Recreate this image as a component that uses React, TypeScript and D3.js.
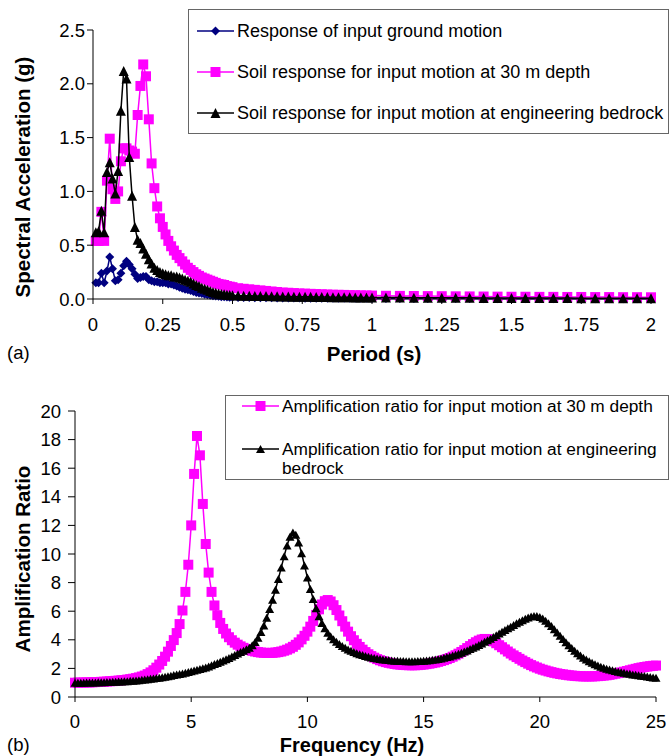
import React from 'react';
import * as d3 from 'd3';

// ---- (a) response spectra ----
const PERIODS = [
  0.01, 0.02, 0.03, 0.04, 0.05, 0.06, 0.07, 0.08, 0.09, 0.10,
  0.11, 0.12, 0.13, 0.14, 0.15, 0.16, 0.17, 0.18, 0.19, 0.20,
  0.21, 0.22, 0.23, 0.24, 0.25, 0.26, 0.27, 0.28, 0.29, 0.30,
  0.31, 0.32, 0.33, 0.34, 0.35, 0.36, 0.37, 0.38, 0.39, 0.40,
  0.41, 0.42, 0.43, 0.44, 0.45, 0.46, 0.47, 0.48, 0.49, 0.50,
  0.52, 0.54, 0.56, 0.58, 0.60, 0.62, 0.64, 0.66, 0.68, 0.70,
  0.72, 0.74, 0.76, 0.78, 0.80, 0.82, 0.84, 0.86, 0.88, 0.90,
  0.92, 0.94, 0.96, 0.98, 1.00,
  1.05, 1.10, 1.15, 1.20, 1.25, 1.30, 1.35, 1.40, 1.45, 1.50,
  1.55, 1.60, 1.65, 1.70, 1.75, 1.80, 1.85, 1.90, 1.95, 2.00,
];

const SA_INPUT = [
  0.15, 0.15, 0.24, 0.15, 0.26, 0.39, 0.28, 0.17, 0.18, 0.24,
  0.31, 0.35, 0.32, 0.28, 0.23, 0.19, 0.20, 0.21, 0.21, 0.18,
  0.17, 0.16, 0.16, 0.15, 0.15, 0.15, 0.14, 0.14, 0.13, 0.12,
  0.11, 0.10, 0.09, 0.085, 0.08, 0.07, 0.06, 0.055, 0.05, 0.045,
  0.04, 0.035, 0.03, 0.028, 0.025, 0.022, 0.02, 0.018, 0.017, 0.016,
  0.015, 0.014, 0.013, 0.012, 0.012, 0.011, 0.011, 0.010, 0.010, 0.009,
  0.009, 0.009, 0.008, 0.008, 0.008, 0.007, 0.007, 0.007, 0.007, 0.006,
  0.006, 0.006, 0.006, 0.006, 0.005,
  0.005, 0.005, 0.004, 0.004, 0.004, 0.004, 0.004, 0.003, 0.003, 0.003,
  0.003, 0.003, 0.003, 0.003, 0.002, 0.002, 0.002, 0.002, 0.002, 0.002,
];

const SA_30M = [
  0.54, 0.54, 0.81, 0.54, 1.10, 1.49, 1.02, 0.93, 1.00, 1.28,
  1.40, 1.40, 1.38, 1.37, 1.35, 1.71, 1.98, 2.18, 2.07, 1.67,
  1.26, 1.03, 0.86, 0.75, 0.67, 0.60, 0.54, 0.49, 0.45, 0.41,
  0.38, 0.35, 0.32, 0.29, 0.27, 0.25, 0.23, 0.215, 0.20, 0.19,
  0.18, 0.17, 0.16, 0.15, 0.14, 0.135, 0.13, 0.12, 0.115, 0.11,
  0.10, 0.095, 0.09, 0.085, 0.08, 0.075, 0.07, 0.065, 0.06, 0.058,
  0.055, 0.052, 0.05, 0.048, 0.046, 0.044, 0.042, 0.04, 0.039, 0.038,
  0.036, 0.035, 0.034, 0.033, 0.032,
  0.03, 0.029, 0.028, 0.027, 0.026, 0.025, 0.024, 0.023, 0.022, 0.021,
  0.021, 0.02, 0.02, 0.019, 0.019, 0.018, 0.018, 0.017, 0.017, 0.016,
];

const SA_BEDROCK = [
  0.62, 0.63, 0.82, 0.62, 1.18, 1.27, 1.12, 0.98, 1.19, 1.75,
  2.12, 2.05, 1.32, 0.96, 0.67, 0.55, 0.52, 0.47, 0.42, 0.37,
  0.33, 0.29, 0.27, 0.25, 0.24, 0.23, 0.22, 0.22, 0.21, 0.21,
  0.20, 0.19, 0.18, 0.17, 0.16, 0.145, 0.13, 0.12, 0.105, 0.095,
  0.085, 0.075, 0.065, 0.058, 0.052, 0.047, 0.043, 0.04, 0.037, 0.035,
  0.033, 0.031, 0.03, 0.029, 0.028, 0.027, 0.026, 0.025, 0.024, 0.023,
  0.022, 0.021, 0.02, 0.02, 0.019, 0.018, 0.018, 0.017, 0.017, 0.016,
  0.016, 0.015, 0.015, 0.014, 0.014,
  0.013, 0.013, 0.012, 0.012, 0.011, 0.011, 0.011, 0.01, 0.01, 0.01,
  0.009, 0.009, 0.009, 0.009, 0.008, 0.008, 0.008, 0.008, 0.007, 0.007,
];

const SA_TICKS = [0, 0.5, 1, 1.5, 2, 2.5];
const PERIOD_TICKS = [0, 0.25, 0.5, 0.75, 1, 1.25, 1.5, 1.75, 2];

// ---- (b) amplification ratios, sampled every 0.125 Hz from 0 to 25 Hz ----
const FREQ_STEP = 0.125;

const AMP_30M = [
  1.00, 1.00, 1.01, 1.01, 1.02, 1.02, 1.03, 1.04,
  1.05, 1.06, 1.07, 1.08, 1.10, 1.11, 1.13, 1.15,
  1.17, 1.19, 1.22, 1.25, 1.28, 1.32, 1.37, 1.43,
  1.50, 1.60, 1.72, 1.87, 2.05, 2.27, 2.52, 2.82,
  3.17, 3.57, 3.98, 4.47, 5.10, 6.05, 7.35, 9.25,
  12.00, 15.60, 18.25, 16.90, 13.50, 10.70, 8.70, 7.35,
  6.40, 5.72, 5.18, 4.76, 4.44, 4.18, 3.97, 3.80,
  3.66, 3.54, 3.44, 3.36, 3.29, 3.23, 3.18, 3.14,
  3.11, 3.09, 3.08, 3.08, 3.09, 3.11, 3.14, 3.18,
  3.24, 3.31, 3.40, 3.51, 3.65, 3.82, 4.03, 4.28,
  4.57, 4.92, 5.32, 5.74, 6.13, 6.47, 6.70, 6.78,
  6.68, 6.42, 6.08, 5.70, 5.30, 4.92, 4.57, 4.25,
  3.97, 3.72, 3.50, 3.31, 3.14, 2.99, 2.86, 2.75,
  2.65, 2.57, 2.50, 2.44, 2.39, 2.35, 2.31, 2.28,
  2.26, 2.24, 2.23, 2.22, 2.22, 2.22, 2.23, 2.25,
  2.27, 2.30, 2.33, 2.37, 2.41, 2.46, 2.52, 2.58,
  2.65, 2.73, 2.82, 2.92, 3.03, 3.15, 3.28, 3.42,
  3.56, 3.70, 3.83, 3.94, 4.02, 4.06, 4.05, 3.99,
  3.89, 3.76, 3.62, 3.48, 3.33, 3.18, 3.04, 2.91,
  2.79, 2.67, 2.55, 2.44, 2.33, 2.23, 2.14, 2.06,
  1.98, 1.91, 1.85, 1.79, 1.74, 1.69, 1.65, 1.61,
  1.58, 1.55, 1.52, 1.50, 1.48, 1.46, 1.45, 1.44,
  1.44, 1.44, 1.44, 1.45, 1.46, 1.48, 1.50, 1.52,
  1.55, 1.59, 1.63, 1.67, 1.72, 1.77, 1.82, 1.87,
  1.92, 1.97, 2.02, 2.06, 2.10, 2.13, 2.16, 2.18,
  2.20,
];

const AMP_BEDROCK = [
  1.00, 1.00, 1.00, 1.00, 1.01, 1.01, 1.02, 1.02,
  1.03, 1.03, 1.04, 1.05, 1.05, 1.06, 1.07, 1.08,
  1.09, 1.10, 1.11, 1.13, 1.14, 1.16, 1.18, 1.20,
  1.22, 1.24, 1.27, 1.29, 1.32, 1.35, 1.38, 1.41,
  1.45, 1.49, 1.53, 1.57, 1.61, 1.65, 1.70, 1.75,
  1.80, 1.85, 1.90, 1.95, 2.01, 2.07, 2.14, 2.22,
  2.30, 2.38, 2.46, 2.55, 2.64, 2.73, 2.83, 2.93,
  3.04, 3.14, 3.24, 3.34, 3.45, 3.62, 3.85, 4.15,
  4.55, 5.00, 5.55, 6.15, 6.80, 7.50, 8.25, 9.05,
  9.85, 10.60, 11.20, 11.50, 11.35, 10.80, 10.05, 9.20,
  8.35, 7.55, 6.85, 6.20, 5.65, 5.18, 4.80, 4.50,
  4.25, 4.04, 3.86, 3.70, 3.56, 3.44, 3.33, 3.23,
  3.14, 3.06, 2.99, 2.93, 2.87, 2.82, 2.77, 2.73,
  2.69, 2.66, 2.63, 2.60, 2.58, 2.56, 2.54, 2.53,
  2.52, 2.51, 2.50, 2.50, 2.50, 2.50, 2.51, 2.52,
  2.53, 2.55, 2.57, 2.60, 2.63, 2.66, 2.70, 2.74,
  2.79, 2.84, 2.90, 2.96, 3.03, 3.10, 3.18, 3.26,
  3.35, 3.44, 3.54, 3.64, 3.75, 3.86, 3.97, 4.08,
  4.20, 4.32, 4.44, 4.56, 4.68, 4.80, 4.92, 5.04,
  5.15, 5.26, 5.37, 5.47, 5.56, 5.63, 5.67, 5.66,
  5.60, 5.49, 5.34, 5.16, 4.96, 4.74, 4.51, 4.28,
  4.05, 3.83, 3.62, 3.42, 3.23, 3.06, 2.90, 2.75,
  2.62, 2.50, 2.39, 2.29, 2.20, 2.12, 2.05, 1.98,
  1.92, 1.87, 1.82, 1.77, 1.73, 1.69, 1.65, 1.62,
  1.58, 1.55, 1.52, 1.49, 1.46, 1.43, 1.40, 1.37,
  1.34,
];

const AMP_TICKS = [0, 2, 4, 6, 8, 10, 12, 14, 16, 18, 20];
const FREQ_TICKS = [0, 5, 10, 15, 20, 25];

const FONT = '"Liberation Sans", Arial, sans-serif';
const MAGENTA = '#ff00ff';
const NAVY = '#000080';
const TICK_FS = 18.5;
const TITLE_FS = 20.5;

// marker shapes centred on 0,0
const square = (s: number) => `M${-s / 2},${-s / 2}h${s}v${s}h${-s}Z`;
const diamond = (s: number) => `M0,${-s / 2}L${s / 2},0L0,${s / 2}L${-s / 2},0Z`;
const triangle = (w: number, h: number) => `M0,${-h / 2}L${w / 2},${h / 2}L${-w / 2},${h / 2}Z`;

type Pt = [number, number];

const Series: React.FC<{ pts: Pt[]; color: string; marker: string; width?: number }> = ({ pts, color, marker, width = 1.5 }) => {
  const line = d3.line<Pt>().x(d => d[0]).y(d => d[1]);
  return (
    <g>
      <path d={line(pts) || ''} fill="none" stroke={color} strokeWidth={width} />
      {pts.map((p, i) => (
        <path key={i} d={marker} transform={`translate(${p[0]},${p[1]})`} fill={color} />
      ))}
    </g>
  );
};

const LegendItem: React.FC<{ x: number; y: number; color: string; marker: string; lines: string[]; fs: number }> = ({ x, y, color, marker, lines, fs }) => (
  <g>
    <line x1={x} x2={x + 37} y1={y} y2={y} stroke={color} strokeWidth={1.5} />
    <path d={marker} transform={`translate(${x + 18.5},${y})`} fill={color} />
    {lines.map((t, i) => (
      <text key={i} x={x + 40} y={y + i * 19} dy="0.35em" fontSize={fs} fill="#000">{t}</text>
    ))}
  </g>
);

const SpectraChart: React.FC = () => {
  const x = d3.scaleLinear().domain([0, 2]).range([93, 651]);
  const y = d3.scaleLinear().domain([0, 2.5]).range([299, 30]);
  const pts = (vals: number[]): Pt[] => PERIODS.map((p, i) => [x(p), y(vals[i])]);
  return (
    <g>
      <Series pts={pts(SA_INPUT)} color={NAVY} marker={diamond(9)} />
      <Series pts={pts(SA_30M)} color={MAGENTA} marker={square(10)} />
      <Series pts={pts(SA_BEDROCK)} color="#000" marker={triangle(10, 10)} />

      <line x1={x(0)} x2={x(0)} y1={y(0)} y2={y(2.5)} stroke="#000" />
      <line x1={x(0)} x2={x(2)} y1={y(0)} y2={y(0)} stroke="#000" />
      {SA_TICKS.map(t => (
        <g key={t}>
          <line x1={x(0) - 6} x2={x(0)} y1={y(t)} y2={y(t)} stroke="#000" />
          <text x={85} y={y(t)} dy="0.36em" textAnchor="end" fontSize={TICK_FS}>{d3.format('.1f')(t)}</text>
        </g>
      ))}
      {PERIOD_TICKS.map(t => (
        <g key={t}>
          <line x1={x(t)} x2={x(t)} y1={y(0)} y2={y(0) + 5} stroke="#000" />
          <text x={x(t)} y={331} textAnchor="middle" fontSize={TICK_FS}>{String(t)}</text>
        </g>
      ))}
      <text x={374} y={361} textAnchor="middle" fontSize={TITLE_FS} fontWeight="bold">Period (s)</text>
      <text x={7} y={359} fontSize={TICK_FS}>(a)</text>
      <text transform="translate(30,177) rotate(-90)" textAnchor="middle" fontSize={TITLE_FS} fontWeight="bold">Spectral Acceleration (g)</text>

      <rect x={188.5} y={9.5} width={480} height={124} fill="#fff" stroke="#666" />
      <LegendItem x={197} y={31} fs={18} color={NAVY} marker={diamond(9)} lines={['Response of input ground motion']} />
      <LegendItem x={197} y={72} fs={18} color={MAGENTA} marker={square(10)} lines={['Soil response for input motion at 30 m depth']} />
      <LegendItem x={197} y={113} fs={18} color="#000" marker={triangle(10, 10)} lines={['Soil response for input motion at engineering bedrock']} />
    </g>
  );
};

const AmplificationChart: React.FC = () => {
  const x = d3.scaleLinear().domain([0, 25]).range([75, 656]);
  const y = d3.scaleLinear().domain([0, 20]).range([697, 411]);
  const pts = (vals: number[]): Pt[] => vals.map((v, i) => [x(i * FREQ_STEP), y(v)]);
  return (
    <g>
      <Series pts={pts(AMP_30M)} color={MAGENTA} marker={square(10)} />
      <Series pts={pts(AMP_BEDROCK)} color="#000" marker={triangle(9, 8)} />

      <line x1={x(0)} x2={x(0)} y1={y(0)} y2={y(20)} stroke="#000" />
      <line x1={x(0)} x2={x(25)} y1={y(0)} y2={y(0)} stroke="#000" />
      {AMP_TICKS.map(t => (
        <g key={t}>
          <line x1={x(0) - 7} x2={x(0)} y1={y(t)} y2={y(t)} stroke="#000" />
          <text x={61} y={y(t)} dy="0.36em" textAnchor="end" fontSize={TICK_FS}>{t}</text>
        </g>
      ))}
      {FREQ_TICKS.map(t => (
        <g key={t}>
          <line x1={x(t)} x2={x(t)} y1={y(0)} y2={y(0) + 5} stroke="#000" />
          <text x={x(t)} y={727.5} textAnchor="middle" fontSize={TICK_FS}>{t}</text>
        </g>
      ))}
      <text x={352} y={752} textAnchor="middle" fontSize={20} fontWeight="bold">Frequency (Hz)</text>
      <text x={7} y={751} fontSize={TICK_FS}>(b)</text>
      <text transform="translate(30,559) rotate(-90)" textAnchor="middle" fontSize={TITLE_FS} fontWeight="bold">Amplification Ratio</text>

      <rect x={225.5} y={395.5} width={443} height={84} fill="#fff" stroke="#666" />
      <LegendItem x={242} y={406} fs={17.3} color={MAGENTA} marker={square(10)} lines={['Amplification ratio for input motion at 30 m depth']} />
      <LegendItem x={242} y={449} fs={17.3} color="#000" marker={triangle(9, 8)} lines={['Amplification ratio for input motion at engineering', 'bedrock']} />
    </g>
  );
};

export default function App() {
  return (
    <svg
      width={670}
      height={756}
      style={{ position: 'absolute', left: 0, top: 0, background: '#fff' }}
      fontFamily={FONT}
    >
      <rect width={670} height={756} fill="#fff" />
      <SpectraChart />
      <AmplificationChart />
    </svg>
  );
}
